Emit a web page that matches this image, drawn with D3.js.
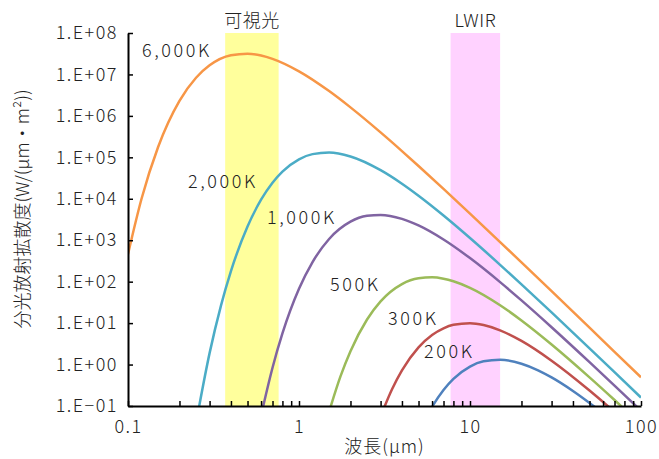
<!DOCTYPE html>
<html>
<head>
<meta charset="utf-8">
<script src="https://cdn.jsdelivr.net/npm/d3@7"></script>
<style>
  body { margin: 0; background: #fff; }
  svg text { font-family: "Noto Sans CJK JP", "Noto Sans", sans-serif; font-weight: 300; fill: #222; }
</style>
</head>
<body>
<svg width="659" height="459"></svg>
<script>
// values (W/(µm·m²) vs wavelength µm)
const temps = ["6,000K", "2,000K", "1,000K", "500K", "300K", "200K"];
const colors = ["#f79646", "#4bacc6", "#8064a2", "#9bbb59", "#c0504d", "#4f81bd"];

const wl6000 = [0.1, 0.12, 0.15, 0.2, 0.25, 0.3, 0.4, 0.5, 0.6, 0.7, 1, 1.5, 2, 3, 4, 5, 7, 10, 15, 20, 30, 50, 70, 100];
const val6000 = [459, 1.0e4, 1.78e5, 2.31e6, 8.32e6, 1.656e7, 2.905e7, 3.176e7, 2.869e7, 2.382e7, 1.19e7, 3.97e6, 1.606e6, 4.0e5, 1.416e5, 6.19e4, 1.734e4, 4395, 904, 292, 58.9, 7.76, 2.03, 0.491];

const wl2000 = [0.25, 0.3, 0.35, 0.4, 0.5, 0.6, 0.7, 0.8, 1, 1.2, 1.5, 2, 3, 4, 5, 7, 10, 15, 20, 30, 50, 70, 100];
const val2000 = [0.0387, 1.888, 26.86, 179.8, 2150, 9510, 2.439e4, 4.518e4, 8.95e4, 1.196e5, 1.307e5, 1.049e5, 4.9e4, 2.308e4, 1.185e4, 3949, 1131, 254.8, 86.0, 18.08, 2.463, 0.6547, 0.1597];

const wl1000 = [0.6, 0.7, 0.8, 1, 1.2, 1.5, 2, 2.5, 3, 4, 5, 7, 10, 15, 20, 30, 50, 70, 100];
const val1000 = [0.059, 0.839, 5.62, 67.2, 297.1, 1070, 2797, 3874, 4084, 3277, 2273, 1040, 370.3, 97.4, 35.34, 7.964, 1.143, 0.3105, 0.077];

const wl500 = [1.5, 1.75, 2, 2.5, 3, 4, 5, 6, 7, 8, 10, 15, 20, 30, 50, 70, 100];
const val500 = [0.0731, 0.5244, 2.10, 12.23, 33.43, 87.4, 121.1, 127.6, 118.1, 102.4, 71.0, 27.0, 11.57, 3.045, 0.4899, 0.1394, 0.0357];

const wl300 = [3, 3.5, 4, 5, 6, 7, 8, 10, 12, 15, 20, 30, 50, 70, 100];
const val300 = [0.0559, 0.2533, 0.722, 2.60, 5.176, 7.508, 9.078, 9.925, 8.963, 6.684, 3.722, 1.241, 0.2368, 0.072, 0.01935];

const wl200 = [5, 6, 7, 8, 10, 12, 15, 20, 25, 30, 40, 50, 60, 70];
const val200 = [0.0215, 0.0951, 0.2439, 0.4518, 0.895, 1.195, 1.307, 1.049, 0.7272, 0.4901, 0.2308, 0.1185, 0.0661, 0.0395];

// wavelength bands
const bandNames = ["可視光", "LWIR"];
const bandFrom = [0.37, 7.7];
const bandTo = [0.76, 15];
const bandColors = ["#ffff9c", "#ffd2ff"];

const yTicks = [1e-1, 1e0, 1e1, 1e2, 1e3, 1e4, 1e5, 1e6, 1e7, 1e8];
const xMajor = [0.1, 1, 10, 100];

const wls = [wl6000, wl2000, wl1000, wl500, wl300, wl200];
const vals = [val6000, val2000, val1000, val500, val300, val200];
const series = temps.map((t, i) => ({
  name: t,
  color: colors[i],
  points: wls[i].map((w, j) => [w, vals[i][j]])
}));

const svg = d3.select("svg");
const margin = { top: 33, right: 18, bottom: 53, left: 128 };
const width = +svg.attr("width");
const height = +svg.attr("height");

const x = d3.scaleLog().domain([0.1, 100]).range([margin.left, width - margin.right]);
const y = d3.scaleLog().domain([0.1, 1e8]).range([height - margin.bottom, margin.top]);

svg.append("defs").append("clipPath").attr("id", "plot")
  .append("rect")
  .attr("x", margin.left).attr("y", margin.top)
  .attr("width", x.range()[1] - margin.left)
  .attr("height", y.range()[0] - margin.top);

// bands
svg.append("g").selectAll("rect")
  .data(bandNames)
  .join("rect")
  .attr("x", (d, i) => x(bandFrom[i]))
  .attr("width", (d, i) => x(bandTo[i]) - x(bandFrom[i]))
  .attr("y", y(1e8))
  .attr("height", y(0.1) - y(1e8))
  .attr("fill", (d, i) => bandColors[i]);

svg.append("g").selectAll("text")
  .data(bandNames)
  .join("text")
  .attr("x", (d, i) => (x(bandFrom[i]) + x(bandTo[i])) / 2)
  .attr("y", 27)
  .attr("text-anchor", "middle")
  .attr("font-size", 18)
  .attr("letter-spacing", 0.5)
  .text(d => d);

// curves
const line = d3.line()
  .x(d => x(d[0]))
  .y(d => y(d[1]))
  .curve(d3.curveMonotoneX);

svg.append("g")
  .attr("clip-path", "url(#plot)")
  .selectAll("path")
  .data(series)
  .join("path")
  .attr("fill", "none")
  .attr("stroke", d => d.color)
  .attr("stroke-width", 2.5)
  .attr("d", d => line(d.points));

// curve labels
const labelX = [142, 188, 267, 330, 388, 424];
const labelY = [57, 188, 224, 291, 325, 358];
svg.append("g").selectAll("text")
  .data(temps)
  .join("text")
  .attr("x", (d, i) => labelX[i])
  .attr("y", (d, i) => labelY[i])
  .attr("font-size", 18)
  .attr("letter-spacing", 2.6)
  .text(d => d);

// axes
const yFmt = v => {
  const e = Math.round(Math.log10(v));
  return "1.E" + (e < 0 ? "−" : "+") + String(Math.abs(e)).padStart(2, "0");
};

const gy = svg.append("g")
  .attr("transform", `translate(${margin.left},0)`)
  .call(d3.axisLeft(y).tickValues(yTicks).tickFormat(yFmt).tickSize(-5).tickSizeOuter(0).tickPadding(10));

const xTicks = [];
[0.1, 1, 10].forEach(d => { for (let k = 1; k < 10; k++) xTicks.push(d * k); });
xTicks.push(100);

const gx = svg.append("g")
  .attr("transform", `translate(0,${y(0.1)})`)
  .call(d3.axisBottom(x).tickValues(xTicks)
    .tickFormat(d => xMajor.some(m => Math.abs(m - d) < 1e-9) ? d3.format("~g")(d) : "")
    .tickSize(-5).tickSizeOuter(0).tickPadding(14));

[gx, gy].forEach(g => {
  g.select(".domain").attr("stroke", "#000").attr("stroke-width", 2);
  g.selectAll(".tick line").attr("stroke", "#000").attr("stroke-width", 1.5);
  g.selectAll(".tick text")
    .attr("font-family", "\"Noto Sans CJK JP\", sans-serif")
    .attr("font-size", 18)
    .attr("letter-spacing", 1.5)
    .attr("fill", "#222");
});

// axis titles
svg.append("text")
  .attr("x", (margin.left + x.range()[1]) / 2)
  .attr("y", 453)
  .attr("text-anchor", "middle")
  .attr("font-size", 18)
  .attr("letter-spacing", 1)
  .text("波長(µm)");

svg.append("text")
  .attr("transform", "translate(29,209) rotate(-90)")
  .attr("text-anchor", "middle")
  .attr("font-size", 18)
  .text("分光放射拡散度(W/(µm・m²))");
</script>
</body>
</html>
